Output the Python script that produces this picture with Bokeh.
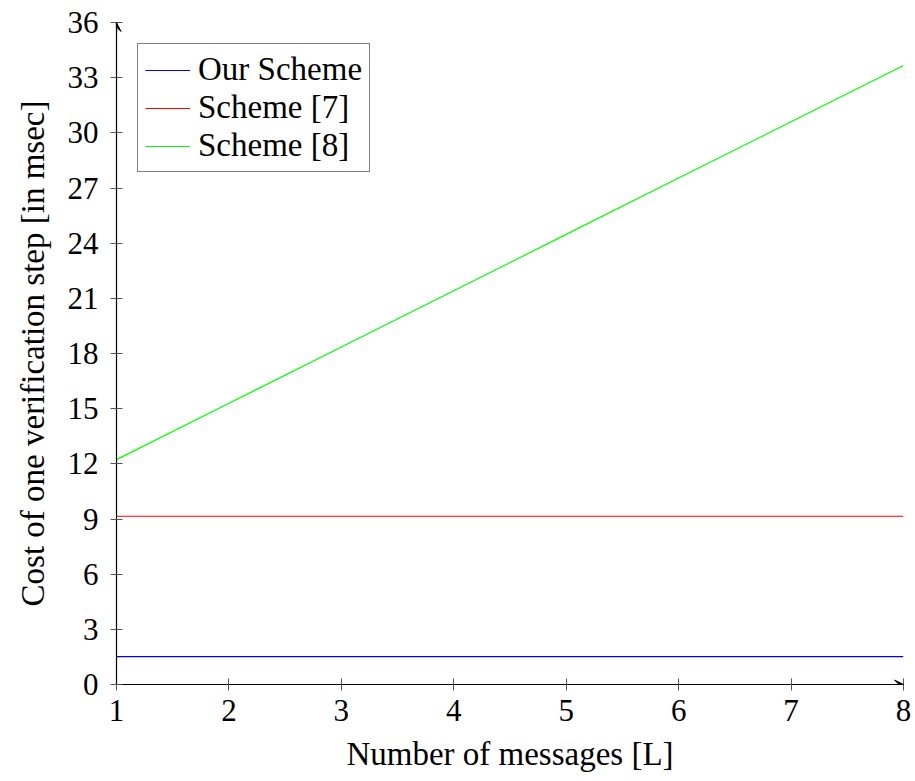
from bokeh.plotting import figure
from bokeh.models import FixedTicker, Legend, LegendItem, Arrow, VeeHead, Range1d
from bokeh.embed import file_html
from bokeh.resources import INLINE

# Data
messages = [1, 2, 3, 4, 5, 6, 7, 8]
our_scheme = [1.52, 1.52, 1.52, 1.52, 1.52, 1.52, 1.52, 1.52]
scheme_7 = [9.15, 9.15, 9.15, 9.15, 9.15, 9.15, 9.15, 9.15]
scheme_8 = [12.23, 15.29, 18.35, 21.41, 24.48, 27.54, 30.60, 33.66]
x_ticks = [1, 2, 3, 4, 5, 6, 7, 8]
y_ticks = [0, 3, 6, 9, 12, 15, 18, 21, 24, 27, 30, 33, 36]

FONT = "Liberation Serif"

p = figure(width=912, height=780, output_backend="svg", toolbar_location=None,
           x_range=Range1d(1, 8), y_range=Range1d(0, 36),
           min_border_left=116, min_border_right=9, min_border_top=22, min_border_bottom=96)
p.outline_line_color = None
p.xgrid.visible = False
p.ygrid.visible = False

r1 = p.line(messages, our_scheme, line_color="#0000ff", line_width=1.2)
r2 = p.line(messages, scheme_7, line_color="#ff0000", line_width=1.2)
r3 = p.line(messages, scheme_8, line_color="#00ff00", line_width=1.2)

for ax in (p.xaxis[0], p.yaxis[0]):
    ax.axis_line_color = "black"
    ax.axis_line_width = 1.2
    ax.major_tick_line_color = "#555555"
    ax.major_tick_in = 6
    ax.major_tick_out = 6
    ax.minor_tick_line_color = None
    ax.major_label_text_font = FONT
    ax.major_label_text_font_size = "31px"
    ax.major_label_text_color = "black"
    ax.axis_label_text_font = FONT
    ax.axis_label_text_font_size = "33px"
    ax.axis_label_text_font_style = "normal"
    ax.axis_label_text_color = "black"

p.xaxis.ticker = FixedTicker(ticks=x_ticks)
p.yaxis.ticker = FixedTicker(ticks=y_ticks)
p.xaxis.axis_label = "Number of messages [L]"
p.yaxis.axis_label = "Cost of one verification step [in msec]"
p.xaxis.major_label_standoff = 9
p.yaxis.major_label_standoff = 12
p.xaxis.axis_label_standoff = 12
p.yaxis.axis_label_standoff = 14

p.add_layout(Arrow(end=VeeHead(size=9, line_color="black", fill_color="black"),
                   x_start=7.9, y_start=0, x_end=8, y_end=0, line_color="black", line_width=1.2))
p.add_layout(Arrow(end=VeeHead(size=9, line_color="black", fill_color="black"),
                   x_start=1, y_start=35.5, x_end=1, y_end=36, line_color="black", line_width=1.2))

legend = Legend(items=[LegendItem(label="Our Scheme", renderers=[r1]),
                       LegendItem(label="Scheme [7]", renderers=[r2]),
                       LegendItem(label="Scheme [8]", renderers=[r3])],
                location="top_left")
legend.margin = 21
legend.border_line_color = "black"
legend.border_line_width = 1.2
legend.label_text_font = FONT
legend.label_text_font_size = "33px"
legend.label_text_color = "black"
legend.glyph_width = 45
legend.glyph_height = 30
legend.label_height = 30
legend.spacing = 1
legend.padding = 7
legend.label_standoff = 8
legend.background_fill_alpha = 1
p.add_layout(legend)

open("out.html", "w").write(file_html(p, INLINE))
